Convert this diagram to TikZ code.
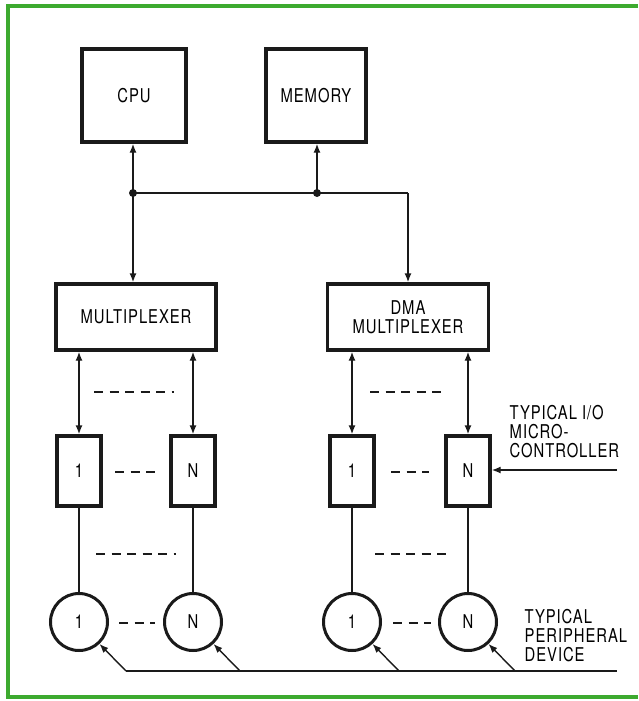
\documentclass[tikz,border=0pt]{standalone}
\usepackage{fontspec}
\setmainfont{TeX Gyre Heros}[FakeStretch=0.78,LetterSpace=5]
\usepackage{xcolor}
\usepackage{tikz}
\usetikzlibrary{arrows.meta,calc}
\definecolor{verdeborda}{HTML}{3DAA2F}
\definecolor{tinta}{HTML}{1A1A1A}

\begin{document}
\begin{tikzpicture}[x=1pt, y=-1pt, >={Latex[length=9pt,width=7pt]}, line width=1.4pt, draw=tinta,
    font=\fontsize{19}{19}\selectfont,
    caixa/.style={draw=tinta, line width=3.4pt, inner sep=0pt, align=center},
    ctl/.style={caixa, minimum width=44pt, minimum height=70pt},
    dev/.style={circle, draw=tinta, line width=3pt, inner sep=0pt, minimum size=57pt},
    gapline/.style={draw=tinta, line width=1.6pt, dash pattern=on 9pt off 6.5pt},
    nota/.style={anchor=west, align=left, inner sep=0pt}]
  \useasboundingbox (0,0) rectangle (638,701);
  \draw[verdeborda, line width=3.5pt] (638,6) -- (8,6) -- (8,697) -- (638,697);
  % top units and bus
  \node[caixa, minimum width=104pt, minimum height=93pt] (cpu) at (134,95.5) {CPU};
  \node[caixa, minimum width=100pt, minimum height=93pt] (mem) at (316,95.5) {MEMORY};
  \node[caixa, minimum width=160pt, minimum height=66pt] (mux) at (136,317) {MULTIPLEXER};
  \node[caixa, minimum width=161pt, minimum height=66pt] (dmux) at (408,317) {DMA\\MULTIPLEXER};
  \coordinate (jc) at (133,193);
  \coordinate (jm) at (317,193);
  \coordinate (bc) at (dmux.north |- jc);
  \draw[->] (jc) -- (jc |- cpu.south);
  \draw[->] (jm) -- (jm |- mem.south);
  \draw (jc) -- (bc);
  \draw[->] (bc) -- (dmux.north);
  \draw[->] (jc) -- (jc |- mux.north);
  \fill[tinta] (jc) circle (4pt) (jm) circle (4pt);
  % controllers and peripherals
  \foreach \s/\x/\t in {A1/79/1, AN/193/N, B1/352/1, BN/468/N}{
    \node[ctl] (ctl\s) at (\x,471) {\t};
    \node[dev] (dev\s) at (\x,622) {\t};
    \draw (ctl\s) -- (dev\s);
    \draw[->] ($(dev\s)+(47,49)$) -- (dev\s.-47);
  }
  \foreach \s in {A1,AN}{\draw[<->] (ctl\s.north |- mux.south) -- (ctl\s.north);}
  \foreach \s in {B1,BN}{\draw[<->] (ctl\s.north |- dmux.south) -- (ctl\s.north);}
  \foreach \xa/\xb/\y in {94/174/392, 370/446/392, 115/156/472, 391/429/472,
                           96/176/554, 375/447/554, 119/155/623, 393/431/623}{
    \draw[gapline] (\xa,\y) -- (\xb,\y);
  }
  \coordinate (busL) at (126,671);
  \coordinate (busR) at (617,671);
  \draw (busL) -- (busR);
  \coordinate (inR) at (617,470);
  \draw[->] (inR) -- (inR -| ctlBN.east);
  % labels
  \node[nota] (lblctl) at (509,432) {TYPICAL I/O\\MICRO-\\CONTROLLER};
  \node[nota] (lbldev) at (524,636) {TYPICAL\\PERIPHERAL\\DEVICE};
\end{tikzpicture}
\end{document}
